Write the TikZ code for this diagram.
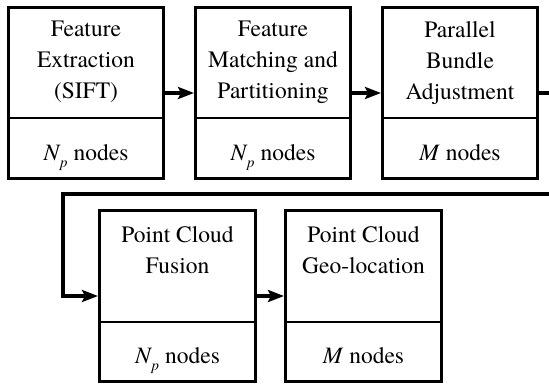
\documentclass[tikz,border=0pt]{standalone}
\usepackage{fontspec}
\setmainfont{TeX Gyre Termes}
\usetikzlibrary{arrows.meta}
\newcommand{\Np}{\textit{N}\kern-0.5pt\raisebox{-0.3em}{\fontsize{15}{15}\selectfont\textit{p}}}
\tikzset{
  box/.style={draw, line width=3pt, minimum width=155pt, minimum height=171pt, inner sep=0pt, anchor=north west},
  divline/.style={line width=1.5pt},
  title/.style={anchor=north, align=center, inner sep=0pt, font=\rmfamily\fontsize{23.5}{31}\selectfont},
  count/.style={anchor=base, inner sep=0pt, font=\rmfamily\fontsize{23.5}{31}\selectfont},
  conn/.style={line width=4pt, -{Stealth[length=16pt, width=12pt, inset=3pt]}}
}
\begin{document}
\begin{tikzpicture}[x=1pt,y=-1pt]
\useasboundingbox (0,0) rectangle (549,388);
% boxes
\node[box] (b1) at (7,6) {};
\node[box] (b2) at (194,6) {};
\node[box] (b3) at (381,6) {};
\node[box, minimum width=156pt] (b4) at (98,209) {};
\node[box, minimum width=156pt] (b5) at (284,209) {};
% dividers
\draw[divline] (b1.west |- 0,118) -- (b1.east |- 0,118);
\draw[divline] (b2.west |- 0,118) -- (b2.east |- 0,118);
\draw[divline] (b3.west |- 0,118) -- (b3.east |- 0,118);
\draw[divline] (b4.west |- 0,322) -- (b4.east |- 0,322);
\draw[divline] (b5.west |- 0,322) -- (b5.east |- 0,322);
% titles
\node[title] (t1) at ([yshift=-15pt]b1.north) {Feature\\Extraction\\(SIFT)};
\node[title] (t2) at ([yshift=-15pt]b2.north) {Feature\\Matching and\\Partitioning};
\node[title] (t3) at ([yshift=-15pt]b3.north) {Parallel\\Bundle\\Adjustment};
\node[title] (t4) at ([yshift=-17pt]b4.north) {Point Cloud\\Fusion};
\node[title] (t5) at ([yshift=-17pt]b5.north) {Point Cloud\\Geo-location};
% counts
\node[count] (n1) at (b1.center |- 0,160) {\Np{} nodes};
\node[count] (n2) at (b2.center |- 0,160) {\Np{} nodes};
\node[count] (n3) at (b3.center |- 0,160) {\textit{M} nodes};
\node[count] (n4) at (b4.center |- 0,363) {\Np{} nodes};
\node[count] (n5) at (b5.center |- 0,363) {\textit{M} nodes};
% connectors
\draw[conn] (b1.east) -- (b2.west);
\draw[conn] (b2.east) -- (b3.west);
\coordinate (c1) at (556,194);
\coordinate (c2) at (63,194);
\draw[conn] (b3.east) -| (c1) -- (c2) |- (b4.west);
\draw[conn] (b4.east) -- (b5.west);
\end{tikzpicture}
\end{document}
